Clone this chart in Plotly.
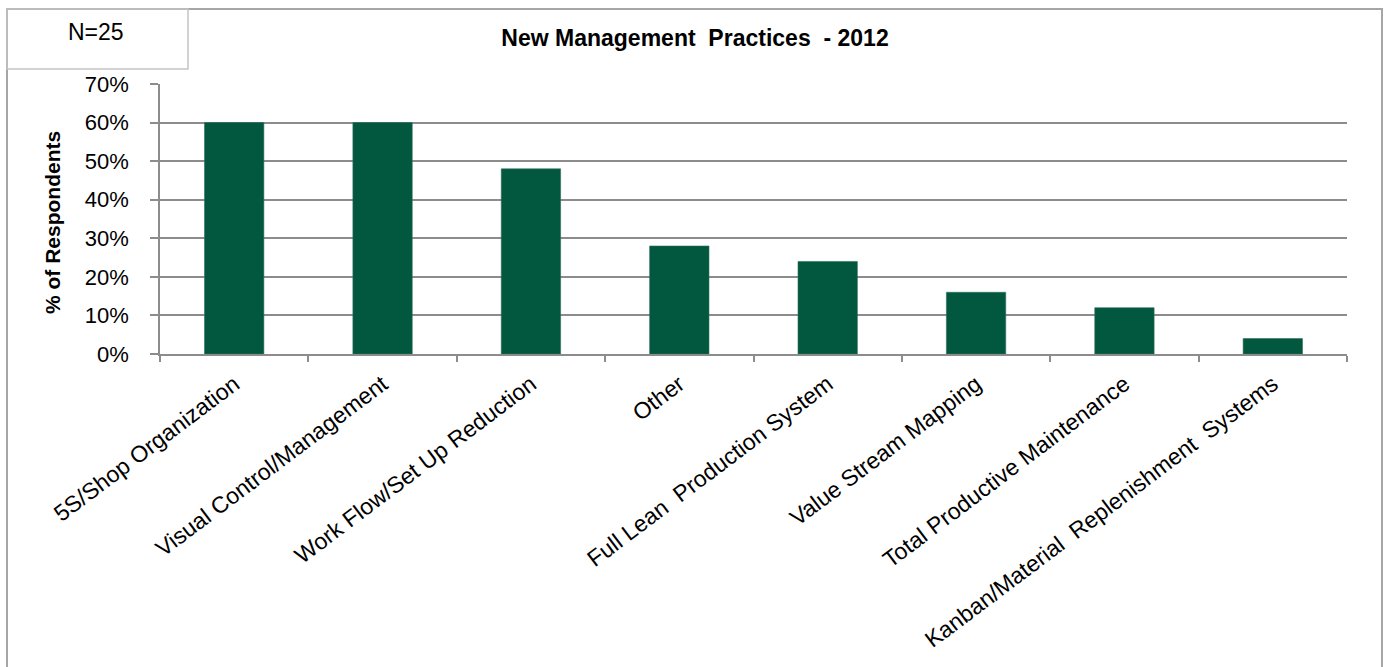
import plotly.graph_objects as go

# Survey results: share of respondents adopting each practice (N=25)
practices = [
    "5S/Shop Organization",
    "Visual Control/Management",
    "Work Flow/Set Up Reduction",
    "Other",
    "Full Lean\u00a0 Production System",
    "Value Stream Mapping",
    "Total Productive Maintenance",
    "Kanban/Material\u00a0 Replenishment\u00a0 Systems",
]
pct_respondents = [60, 60, 48, 28, 24, 16, 12, 4]
y_ticks = [0, 10, 20, 30, 40, 50, 60, 70]

W, H = 1385, 667
L, R, T, B = 160, 1347, 84, 354  # plot area in pixels

def px(x):
    return (x - L) / (R - L)

def py(y):
    return (B - y) / (B - T)

BAR = "#02573F"
GRID = "#8c8c8c"
FONT = "Liberation Sans, Arial, sans-serif"

fig = go.Figure(
    go.Bar(
        x=practices,
        y=pct_respondents,
        marker=dict(color=BAR, line=dict(color="#2f6f5c", width=0.6)),
        hoverinfo="x+y",
    )
)

fig.update_layout(
    width=W,
    height=H,
    margin=dict(l=L, r=W - R, t=T, b=H - B),
    paper_bgcolor="white",
    plot_bgcolor="white",
    bargap=0.6,
    showlegend=False,
    font=dict(family=FONT, color="black"),
    title=dict(
        text="<b>New Management\u00a0 Practices\u00a0 - 2012</b>",
        x=695 / W,
        xanchor="center",
        y=1 - 38 / H,
        yanchor="middle",
        xref="container",
        yref="container",
        font=dict(size=23, family=FONT, color="black"),
    ),
    xaxis=dict(
        type="category",
        tickson="boundaries",
        ticks="outside",
        ticklen=6,
        tickcolor=GRID,
        tickwidth=1.5,
        showline=True,
        linecolor=GRID,
        linewidth=1.5,
        showgrid=False,
        tickangle=-37,
        tickfont=dict(size=23, family=FONT, color="black"),
        ticklabelstandoff=6,
    ),
    yaxis=dict(
        range=[0, 70],
        tickvals=y_ticks,
        ticktext=[f"{v}%" for v in y_ticks],
        ticks="outside",
        ticklen=8,
        tickcolor=GRID,
        tickwidth=1.5,
        showline=True,
        linecolor=GRID,
        linewidth=1.5,
        showgrid=True,
        gridcolor=GRID,
        gridwidth=1.5,
        zeroline=False,
        tickfont=dict(size=22, family=FONT, color="black"),
        ticklabelstandoff=17,
    ),
)

# Vertical axis title
fig.add_annotation(
    text="<b>% of Respondents</b>",
    x=px(52), y=py(223),
    xref="paper", yref="paper",
    textangle=-90,
    showarrow=False,
    font=dict(size=21, family=FONT, color="black"),
    xanchor="center", yanchor="middle",
)

# Sample size label in its box
fig.add_annotation(
    text="N=25",
    x=px(96), y=py(32),
    xref="paper", yref="paper",
    showarrow=False,
    font=dict(size=23, family=FONT, color="black"),
    xanchor="center", yanchor="middle",
)

# Outer frame around the chart
fig.add_shape(
    type="rect", xref="paper", yref="paper",
    x0=px(7), x1=px(1382), y0=py(700), y1=py(9),
    line=dict(color="#a6a6a6", width=2), fillcolor="rgba(0,0,0,0)", layer="below",
)
# Box around the N label
fig.add_shape(
    type="rect", xref="paper", yref="paper",
    x0=px(7), x1=px(188), y0=py(69), y1=py(9),
    line=dict(color="#c4c4c4", width=1.5), fillcolor="rgba(0,0,0,0)", layer="below",
)

fig.write_html("out.html")
